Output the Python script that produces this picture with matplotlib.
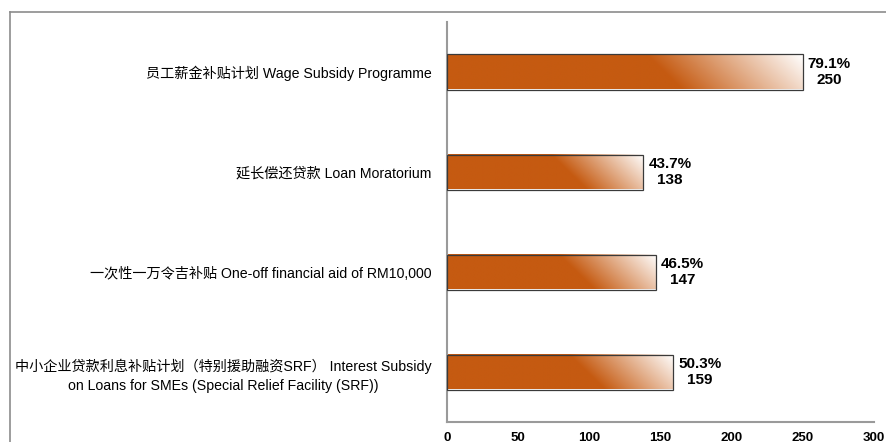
import numpy as np
import matplotlib.pyplot as plt
from matplotlib.lines import Line2D
from matplotlib.colors import to_rgb

plt.rcParams['font.family'] = ['Liberation Sans', 'Noto Sans CJK SC', 'DejaVu Sans']

# data, top to bottom
labels = [
    "员工薪金补贴计划 Wage Subsidy Programme",
    "延长偿还贷款 Loan Moratorium",
    "一次性一万令吉补贴 One-off financial aid of RM10,000",
    "中小企业贷款利息补贴计划（特别援助融资SRF） Interest Subsidy\non Loans for SMEs (Special Relief Facility (SRF))",
]
counts = [250, 138, 147, 159]
percents = ["79.1%", "43.7%", "46.5%", "50.3%"]
xticks = [0, 50, 100, 150, 200, 250, 300]

orange = np.array(to_rgb("#C55A11"))
white = np.array([1.0, 1.0, 1.0])

W, H = 886, 442
fig = plt.figure(figsize=(W / 100, H / 100), dpi=100)
ax = fig.add_axes([447 / W, 20 / H, 427 / W, 400 / H])

# outer frame (cropped)
fig.add_artist(Line2D([10 / W, 10 / W], [0, 1 - 12 / H], transform=fig.transFigure,
                      color="#8c8c8c", lw=1.2))
fig.add_artist(Line2D([10 / W, 1], [1 - 12 / H, 1 - 12 / H], transform=fig.transFigure,
                      color="#8c8c8c", lw=1.2))

xmax = 300
n = len(counts)
ypos = np.arange(n)[::-1]
bar_h = 0.35
sx = 427 / xmax   # px per x unit
sy = 400 / n      # px per y unit

for y, v, p in zip(ypos, counts, percents):
    wpx, hpx = v * sx, bar_h * sy
    xs = np.linspace(0, wpx, 400)
    ys = np.linspace(0, hpx, 40)
    X, Y = np.meshgrid(xs, ys)
    d = (X + Y) / (wpx + hpx)
    t = np.clip((d - 0.6) / 0.4, 0, 1)[..., None]
    img = orange * (1 - t) + white * t
    ax.imshow(img, extent=(0, v, y - bar_h / 2, y + bar_h / 2), origin="lower",
              aspect="auto", interpolation="bilinear", zorder=2)
    ax.add_patch(plt.Rectangle((0, y - bar_h / 2), v, bar_h, facecolor="none",
                               edgecolor="#3a3a3a", lw=0.9, zorder=3))
    ax.text(v + 3.5, y, f"{p}\n{v}", ha="left", va="center", ma="center",
            fontsize=11, fontweight="bold", linespacing=1.2)

ax.set_xlim(0, xmax)
ax.set_ylim(-0.5, n - 0.5)
ax.set_xticks(xticks)
ax.set_xticklabels([str(x) for x in xticks], fontsize=9.5, fontweight="bold")
ax.set_yticks(ypos)
ax.set_yticklabels(labels, fontsize=10.2, ha="right", ma="center", linespacing=1.45)
ax.tick_params(axis="both", length=0)
ax.tick_params(axis="y", pad=11)
ax.tick_params(axis="x", pad=7)

for s in ["top", "right"]:
    ax.spines[s].set_visible(False)
for s in ["left", "bottom"]:
    ax.spines[s].set_color("#9a9a9a")
    ax.spines[s].set_linewidth(1.5)

fig.savefig("out.png", dpi=100)
